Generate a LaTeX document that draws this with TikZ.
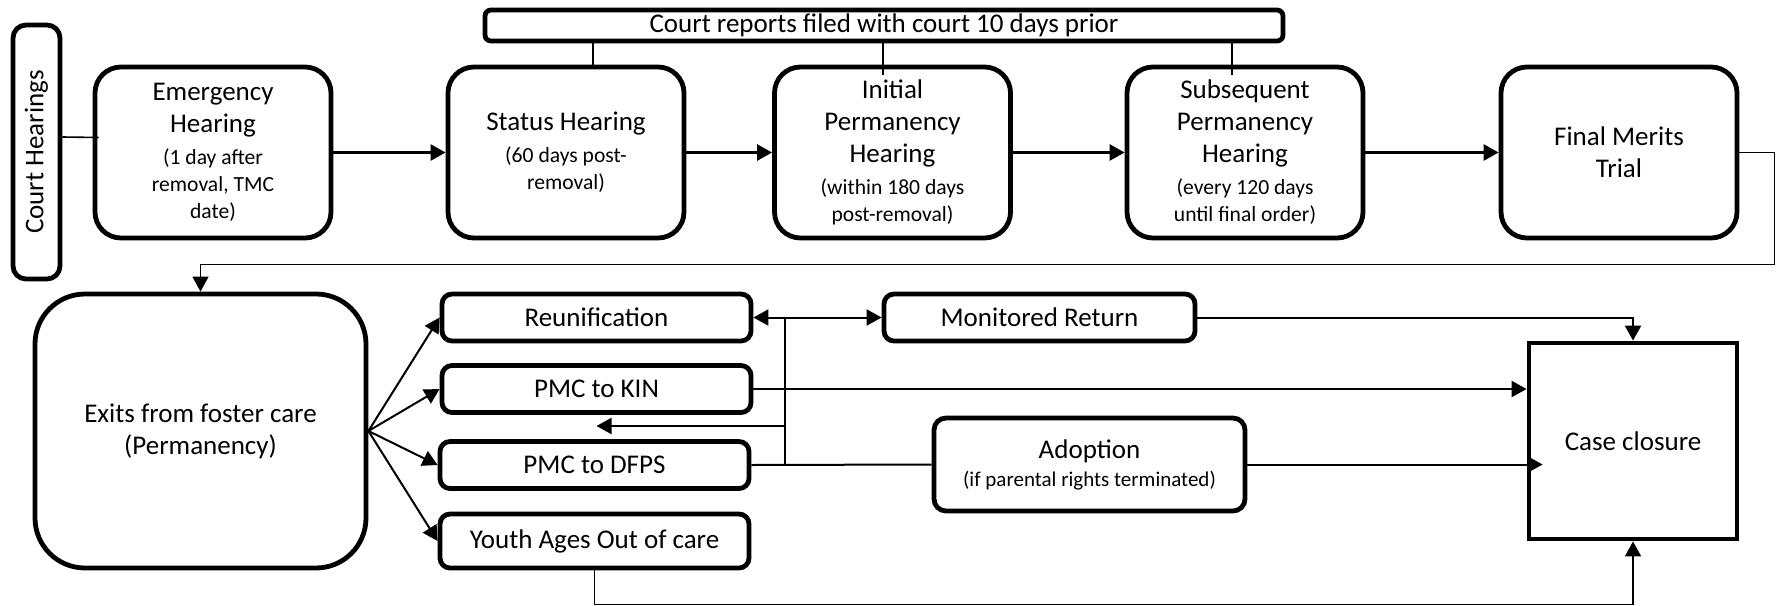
\documentclass[tikz,border=0pt]{standalone}
\usepackage{fontspec}
\setmainfont{Carlito}
\usetikzlibrary{arrows.meta}
\newcommand{\sm}[1]{{\fontsize{10.8}{12.5}\selectfont #1}}

\begin{document}
\begin{tikzpicture}[x=0.5pt, y=-0.5pt, >={Triangle[length=7.5pt, width=8pt]},
    every node/.append style={font=\fontsize{13.5}{16}\selectfont}]
    \useasboundingbox (0, 0) rectangle (1781, 605);
    \begin{scope}[all/.style={draw,fill=white,rectangle,align=center,line width=2.4pt,inner sep=1pt},
        hear/.style={all,rounded corners=13pt,minimum width=118pt,minimum height=85.5pt},
        exitbox/.style={all,rounded corners=5pt,minimum width=154.5pt,minimum height=23.5pt}]

        \node[all, rounded corners=6.5pt, minimum width=23.5pt, minimum height=127pt] (h0) at (36.5, 152) {\rotatebox{90}{Court Hearings}};
        \node[all, rounded corners=3pt, minimum width=399pt, minimum height=15.5pt, inner sep=0pt] (rp) at (884, 25.5) {Court reports filed with court 10 days prior};

        \node[hear] (h1) at (213, 152.5) {Emergency\\Hearing\\\sm{(1 day after}\\[-2.5pt]\sm{removal, TMC}\\[-2.5pt]\sm{date)}};
        \node[hear] (h2) at (566, 152.5) {Status Hearing\\\sm{(60 days post-}\\[-2.5pt]\sm{removal)}};
        \node[hear] (h3) at (892.5, 152.5) {Initial\\Permanency\\Hearing\\\sm{(within 180 days}\\[-2.5pt]\sm{post-removal)}};
        \node[hear] (h4) at (1245, 152.5) {Subsequent\\Permanency\\Hearing\\\sm{(every 120 days}\\[-2.5pt]\sm{until final order)}};
        \node[hear] (h5) at (1619, 152.5) {Final Merits\\Trial};

        \node[all, rounded corners=25pt, minimum width=165.5pt, minimum height=137pt] (ex) at (200.5, 431) {Exits from foster care\\(Permanency)};

        \node[exitbox] (o1) at (596.5, 317.5) {Reunification};
        \node[exitbox] (o2) at (596.5, 389) {PMC to KIN};
        \node[exitbox] (o3) at (594.5, 465) {PMC to DFPS};
        \node[exitbox, minimum height=27pt] (o4) at (594.5, 541) {Youth Ages Out of care};

        \node[exitbox, minimum width=155.5pt] (mr) at (1039.5, 317.5) {Monitored Return};
        \node[all, rounded corners=6pt, minimum width=155.5pt, minimum height=46.5pt] (ad) at (1089.5, 464.5) {Adoption\\[-2pt]{\fontsize{10.5}{12}\selectfont (if parental rights terminated)}};
        \node[all, minimum width=104pt, minimum height=98pt] (cc) at (1633, 441) {Case closure};

        % thin links
        \begin{scope}[line width=0.8pt]
        \draw ([yshift=7.5pt]h0.east) -- ([xshift=3pt,yshift=7.5pt]h1.west);
        \draw ([xshift=13.5pt]h2.north) -- ([xshift=13.5pt]h2.north |- rp.south);
        \draw ([xshift=-4.75pt,yshift=-5pt]h3.north) -- ([xshift=-4.75pt]h3.north |- rp.south);
        \draw ([xshift=-6.5pt,yshift=-5pt]h4.north) -- ([xshift=-6.5pt]h4.north |- rp.south);
        \draw[->] (h5.east) -| ++(17.5pt,-56pt) -| (ex.north);
        \draw[->] (o4.south) -- ++(0,-17pt) -| (cc.south);
        \end{scope}

        \begin{scope}[line width=1.3pt]
        \path[->] (h1) edge (h2) (h2) edge (h3) (h3) edge (h4) (h4) edge (h5);
        \end{scope}

        \begin{scope}[line width=1pt]
        \path[->] (ex.east) edge (o1.west) edge (o2.west) edge (o3.west) edge (o4.west);

        \coordinate (j1) at ([xshift=17pt]o3.east);
        \coordinate (j2) at (j1 |- o1.east);
        \coordinate (j3) at ([yshift=19.5pt]j1);
        \draw (o3.east) -- (ad.west);
        \draw (j1) -- (j2);
        \path[->] (j2) edge (o1.east) edge (mr.west);
        \draw[->] (j3) -- (j3 -| o2.south);

        \draw[->] (mr.east) -| (cc.north);
        \draw[->] (o2.east) -- (o2.east -| cc.west);
        \draw[->] (ad.east) -- ([xshift=8pt]ad.east -| cc.west);
        \end{scope}
    \end{scope}
\end{tikzpicture}
\end{document}
